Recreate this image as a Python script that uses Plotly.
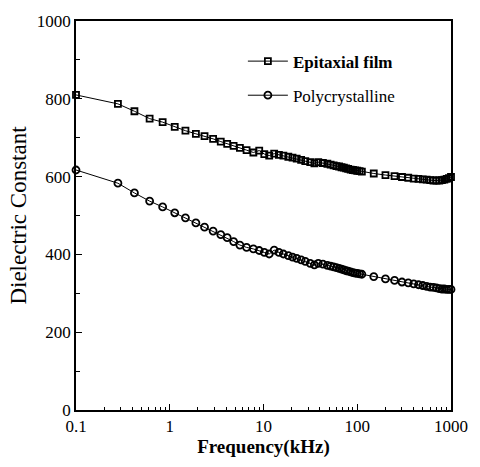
import plotly.graph_objects as go

# Frequencies (kHz)
freq = [0.1, 0.28, 0.42, 0.61, 0.84, 1.13, 1.47, 1.9, 2.35, 2.9, 3.5, 4.1, 4.8, 5.6, 6.6, 7.8, 9.0, 10.2, 11.5,
        13.0, 14.6, 16.3, 18.4, 20.4, 22.6, 25.2, 27.9, 31.5, 34.9, 38.4, 43, 48, 52, 56, 60, 64, 68, 72, 76, 80,
        85, 90, 95, 100, 106, 112,
        150, 200, 250, 300, 350, 400, 450, 500, 550, 600, 650, 700, 750, 800, 850, 900, 950, 1000]

epitaxial = [810, 787, 768, 749, 740, 728, 718, 710, 704, 697, 690, 684, 679, 674, 668, 662, 667, 658, 654,
             659, 656, 654, 651, 649, 646, 643, 640, 637, 634, 637, 635, 633, 631, 629, 627, 626, 624, 623, 621, 620,
             618, 617, 616, 615, 614, 613,
             608, 604, 601, 599, 597, 595, 594, 593, 592, 591, 590, 590, 590, 591, 592, 594, 596, 599]

polycrystalline = [617, 583, 558, 537, 522, 507, 494, 481, 470, 460, 451, 443, 433, 424, 418, 414, 410, 405, 401,
                   411, 405, 401, 397, 393, 390, 386, 382, 377, 373, 377, 375, 372, 370, 368, 366, 364, 362, 360, 358, 357,
                   355, 353, 352, 351, 350, 349,
                   343, 337, 333, 329, 327, 324, 322, 320, 318, 316, 315, 314, 312, 311, 311, 310, 310, 310]

x_tickvals = [0.1, 1, 10, 100, 1000]
x_ticktext = ["0.1", "1", "10", "100", "1000"]
y_tickvals = [0, 200, 400, 600, 800, 1000]

font_family = "Liberation Serif"

fig = go.Figure()
fig.add_trace(go.Scatter(
    x=freq, y=epitaxial, mode="lines+markers", name="<b>Epitaxial film</b>",
    legendgroup="a",
    line=dict(color="black", width=1),
    marker=dict(symbol="square-open", size=6, color="black", line=dict(width=1.8)),
    cliponaxis=False,
))
fig.add_trace(go.Scatter(
    x=freq, y=polycrystalline, mode="lines+markers", name="Polycrystalline",
    legendgroup="b",
    line=dict(color="black", width=1),
    marker=dict(symbol="circle-open", size=7, color="black", line=dict(width=1.8)),
    cliponaxis=False,
))

fig.update_layout(
    width=480, height=467,
    margin=dict(l=76, r=17, t=17, b=57),
    paper_bgcolor="white", plot_bgcolor="white",
    font=dict(family=font_family, color="black", size=16),
    showlegend=True,
    legend=dict(x=0.445, y=0.942, xanchor="left", yanchor="top",
                bgcolor="rgba(0,0,0,0)", font=dict(family=font_family, size=17, color="black"),
                itemwidth=40, tracegroupgap=9),
)
fig.update_xaxes(
    type="log", range=[-1, 3],
    tickvals=x_tickvals, ticktext=x_ticktext,
    ticks="inside", ticklen=6, tickwidth=1.2, tickcolor="black",
    minor=dict(ticks="inside", ticklen=3, tickwidth=1, tickcolor="black", dtick="D1", showgrid=False),
    showline=True, linecolor="black", linewidth=1.6, mirror=True,
    showgrid=False, zeroline=False,
    tickfont=dict(family=font_family, size=17),
    title=dict(text="<b>Frequency(kHz)</b>", font=dict(family=font_family, size=19), standoff=2),
)
fig.update_yaxes(
    range=[0, 1000],
    tickvals=y_tickvals,
    ticks="inside", ticklen=6, tickwidth=1.2, tickcolor="black",
    minor=dict(ticks="inside", ticklen=4, tickwidth=1, tickcolor="black", dtick=100, showgrid=False),
    showline=True, linecolor="black", linewidth=1.6, mirror=True,
    showgrid=False, zeroline=False,
    tickfont=dict(family=font_family, size=17),
    title=dict(text="Dielectric Constant", font=dict(family=font_family, size=23), standoff=4),
)

fig.write_html("out.html")
